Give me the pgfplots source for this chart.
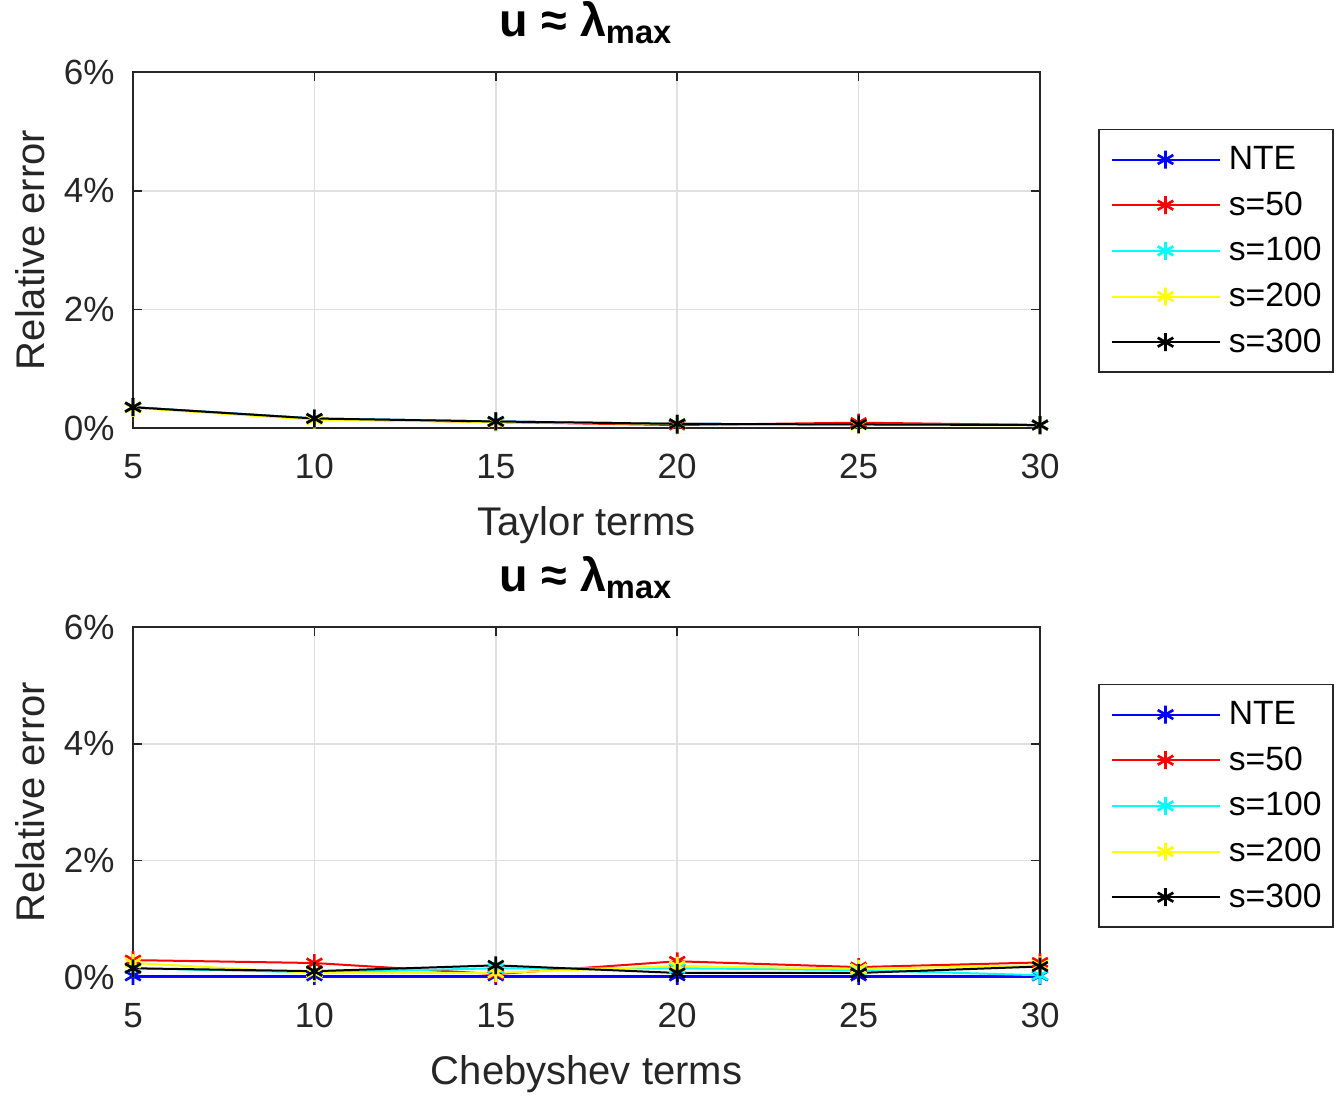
\documentclass[border=0pt]{standalone}
\usepackage{fontspec}
\setmainfont{Liberation Sans}
\usepackage{pgfplots}
\pgfplotsset{compat=1.18}
\definecolor{axgray}{gray}{0.15}
\definecolor{gridgray}{gray}{0.88}
\definecolor{mblue}{rgb}{0,0,1}
\definecolor{mred}{rgb}{1,0,0}
\definecolor{mcyan}{rgb}{0,1,1}
\definecolor{myellow}{rgb}{1,1,0}
\definecolor{mblack}{rgb}{0,0,0}
\pgfplotsset{
  mystyle/.style={
    scale only axis,
    width=272.1pt,
    xmin=5, xmax=30, ymin=0, ymax=6,
    xtick={5,10,15,20,25,30},
    ytick={0,2,4,6},
    yticklabel={\pgfmathprintnumber{\tick}\%},
    /pgf/number format/assume math mode=true,
    tick align=inside,
    major tick length=2.7pt,
    xtick pos=both, ytick pos=both,
    axis line style={axgray, line width=0.5pt},
    every tick/.style={axgray, line width=0.5pt},
    grid=major,
    major grid style={gridgray, line width=0.5pt},
    tick label style={font=\fontsize{10.5}{12}\selectfont, text=axgray},
    xticklabel style={yshift=-4.3pt},
    yticklabel style={xshift=-2pt},
    every axis x label/.style={at={(axis description cs:0.5,0)}, yshift=-32.1pt, anchor=base, font=\fontsize{12}{14}\selectfont, text=axgray},
    every axis y label/.style={at={(axis description cs:0,0.5)}, xshift=-26.4pt, rotate=90, anchor=base, font=\fontsize{12}{14}\selectfont, text=axgray},
    every axis title/.style={at={(axis description cs:0.5,1)}, yshift=10.8pt, anchor=base, font=\fontsize{14}{16}\selectfont\bfseries},
    legend cell align=left,
    legend style={at={(axis description cs:1,1)}, anchor=north west, xshift=17.4pt, yshift=-17pt,
      draw=axgray, line width=0.5pt, font=\fontsize{10.1}{12}\selectfont,
      inner sep=3.5pt, row sep=2.7pt,
      nodes={inner sep=0pt, text height=8.5pt, text depth=2.5pt, anchor=west},
      /tikz/every odd column/.append style={column sep=2.5pt},
      /tikz/every even column/.append style={column sep=0.5pt}},
    legend image code/.code={\draw[mark repeat=2,mark phase=2,#1] plot coordinates {(0pt,0pt)(16.2pt,0pt)(32.4pt,0pt)};},
    every axis plot/.append style={line width=0.6pt, mark=asterisk, mark size=2.7pt, mark options={solid, line width=0.8pt}},
    ylabel={Relative error},
    title={u ≈ λ\textsubscript{max}},
  }
}
\begin{document}
\begin{tikzpicture}
\useasboundingbox (-39.9pt,-201pt) rectangle (363.3pt,128.4pt);
\begin{axis}[mystyle, height=106.8pt, at={(0pt,0pt)}, xlabel={Taylor terms}]
\addplot[mblue] coordinates {(5,0.35)(10,0.16)(15,0.11)(20,0.07)(25,0.06)(30,0.05)};
\addplot[mred] coordinates {(5,0.35)(10,0.15)(15,0.10)(20,0.05)(25,0.09)(30,0.05)};
\addplot[mcyan] coordinates {(5,0.35)(10,0.16)(15,0.11)(20,0.07)(25,0.06)(30,0.05)};
\addplot[myellow] coordinates {(5,0.34)(10,0.14)(15,0.10)(20,0.07)(25,0.05)(30,0.05)};
\addplot[mblack] coordinates {(5,0.35)(10,0.16)(15,0.11)(20,0.07)(25,0.06)(30,0.05)};
\legend{NTE,s=50,s=100,s=200,s=300}
\end{axis}
\begin{axis}[mystyle, height=105pt, at={(0pt,-164.7pt)}, xlabel={Chebyshev terms}]
\addplot[mblue] coordinates {(5,0.02)(10,0.02)(15,0.02)(20,0.02)(25,0.02)(30,0.02)};
\addplot[mred] coordinates {(5,0.29)(10,0.24)(15,0.05)(20,0.27)(25,0.17)(30,0.25)};
\addplot[mcyan] coordinates {(5,0.15)(10,0.08)(15,0.15)(20,0.15)(25,0.12)(30,0.03)};
\addplot[myellow] coordinates {(5,0.24)(10,0.07)(15,0.07)(20,0.19)(25,0.14)(30,0.20)};
\addplot[mblack] coordinates {(5,0.15)(10,0.10)(15,0.20)(20,0.07)(25,0.07)(30,0.18)};
\legend{NTE,s=50,s=100,s=200,s=300}
\end{axis}
\end{tikzpicture}
\end{document}
